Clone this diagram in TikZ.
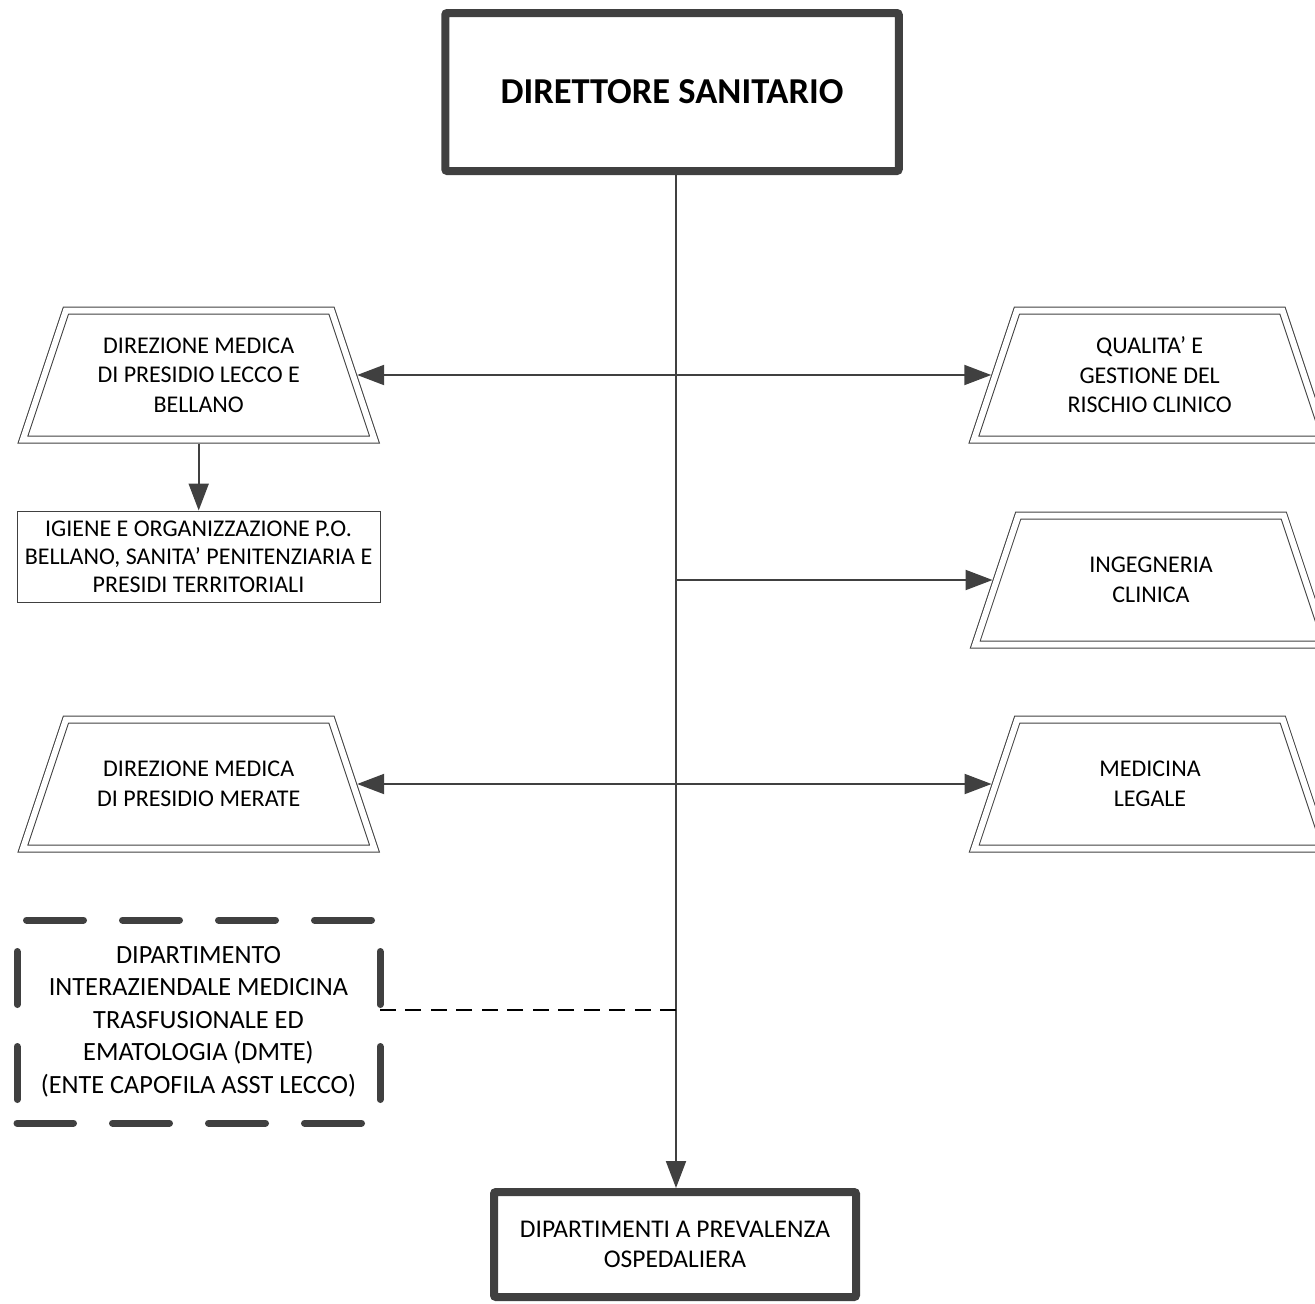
\documentclass[tikz,border=0pt]{standalone}
\usepackage{fontspec}
\setmainfont{Carlito}
\usetikzlibrary{arrows.meta}
\definecolor{lc}{HTML}{404040}
\tikzset{
  lnc/.style={draw=lc, line width=2pt},
  tipend/.style={-{Triangle[length=27pt,width=20pt]}},
  bothend/.style={{Triangle[length=27pt,width=20pt]}-{Triangle[length=27pt,width=20pt]}},
  heavybox/.style={draw=lc, line width=8pt, rounded corners=2pt, inner sep=0pt, align=center},
  thinbox/.style={draw=lc, line width=1pt, inner sep=0pt, align=center, font=\fontsize{24}{28}\selectfont},
  trapbox/.style={rectangle, draw=none, minimum width=351.5pt, minimum height=129pt,
    inner sep=0pt, outer sep=0pt, align=center, font=\fontsize{24}{29.5}\selectfont},
  trapline/.style={draw=lc, line width=1pt, double=white, double distance=6pt},
  dashside/.style={draw=lc, line width=7pt, line cap=round},
  dashlink/.style={draw=black, line width=2pt, dash pattern=on 16pt off 9.5pt},
}
\newcommand\drawtrap[1]{%
  \draw[trapline] ([xshift=43pt]#1.north west) -- ([xshift=-43pt]#1.north east)
    -- (#1.south east) -- (#1.south west) -- cycle;}
\begin{document}
\begin{tikzpicture}[x=1pt,y=1pt]
\useasboundingbox (0,0) rectangle (1315,-1304);
\clip (0,0) rectangle (1315,-1304);
\coordinate (cx) at (676,0);

\node[heavybox, minimum width=453.5pt, minimum height=158pt,
  font=\fontsize{36.5}{44}\selectfont\bfseries] (top) at (672,-92) {DIRETTORE SANITARIO};

\node[trapbox] (lecco) at (198.7,-375) {DIREZIONE MEDICA\\DI PRESIDIO LECCO E\\BELLANO};
\node[trapbox] (qual) at (1149.7,-375) {QUALITA’ E\\GESTIONE DEL\\RISCHIO CLINICO};
\node[trapbox] (ing) at (1151,-580) {INGEGNERIA\\CLINICA};
\node[trapbox] (merate) at (198.7,-784) {DIREZIONE MEDICA\\DI PRESIDIO MERATE};
\node[trapbox] (legale) at (1150,-784) {MEDICINA\\LEGALE};
\drawtrap{lecco}
\drawtrap{qual}
\drawtrap{ing}
\drawtrap{merate}
\drawtrap{legale}

\node[thinbox, minimum width=363pt, minimum height=91pt] (igiene) at (198.5,-556.5)
  {IGIENE E ORGANIZZAZIONE P.O.\\BELLANO, SANITA’ PENITENZIARIA E\\PRESIDI TERRITORIALI};

\node[draw=none, inner sep=0pt, outer sep=0pt, minimum width=363pt, minimum height=203pt,
  align=center, font=\fontsize{26.3}{32.5}\selectfont] (dm) at (198.5,-1021.5)
  {DIPARTIMENTO\\INTERAZIENDALE MEDICINA\\TRASFUSIONALE ED\\EMATOLOGIA (DMTE)\\(ENTE CAPOFILA ASST LECCO)};
\draw[dashside, dash pattern=on 57pt off 39pt, dash phase=86.5pt] (dm.north west) -- (dm.north east);
\draw[dashside, dash pattern=on 57pt off 39pt, dash phase=0.5pt] (dm.south west) -- (dm.south east);
\draw[dashside, dash pattern=on 53pt off 42pt, dash phase=63.5pt] (dm.north west) -- (dm.south west);
\draw[dashside, dash pattern=on 53pt off 42pt, dash phase=63.5pt] (dm.north east) -- (dm.south east);

\node[heavybox, minimum width=362pt, minimum height=105pt,
  font=\fontsize{25.5}{30.5}\selectfont] (bot) at (675,-1244.5) {DIPARTIMENTI A PREVALENZA\\OSPEDALIERA};

\coordinate (j4) at (676,-1010);

\draw[lnc, tipend] (top.south -| cx) -- (bot.north -| cx);
\draw[lnc, bothend] ([xshift=-17.3pt]lecco.east) -- ([xshift=17.3pt]qual.west);
\draw[lnc, tipend] (ing.west -| cx) -- ([xshift=17.3pt]ing.west);
\draw[lnc, bothend] ([xshift=-17.3pt]merate.east) -- ([xshift=17.3pt]legale.west);
\draw[lnc, tipend] ([yshift=-4pt]lecco.south) -- (lecco.south |- igiene.north);
\draw[dashlink] (j4) -- (dm.east |- j4);
\end{tikzpicture}
\end{document}
